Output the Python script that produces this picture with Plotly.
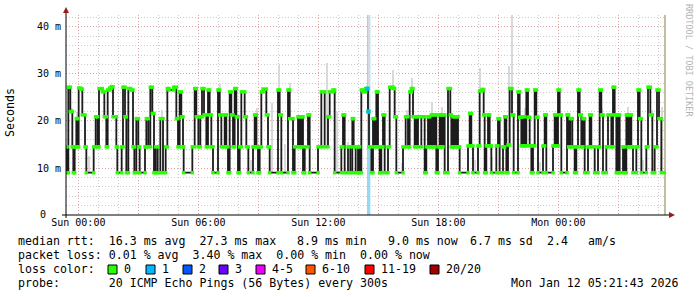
import numpy as np
import pandas as pd
import plotly.graph_objects as go

# ---------------- data ----------------
t_start = pd.Timestamp("2026-01-10 23:23:00")
span_minutes = 1800

# median RTT step series: minute offset of each level change, level in ms
change_min = [0, 3, 7, 13, 19, 22, 26, 31, 36, 38, 44, 49, 57, 61, 83, 89, 95, 99, 109, 115,
              121, 125, 131, 136, 141, 151, 154, 167, 171, 177, 181, 187, 194, 201, 205, 211, 217, 221, 237, 241,
              247, 253, 259, 264, 269, 275, 283,
              291, 299, 304, 309, 323, 331, 336, 341, 346, 351, 353, 379, 386, 391, 397, 403, 408, 414, 421,
              426, 431, 436, 441, 456, 461, 466, 476, 481, 486, 491, 496, 501, 506, 511, 516, 521, 526, 536,
              541, 547, 561, 566, 571, 576, 581, 586,
              591, 601, 606, 611, 636, 641, 646, 666, 671, 681, 686, 696, 701, 706, 711, 716, 726, 731, 756,
              766, 776, 786, 791, 801, 806, 826, 831, 836, 846, 853, 859, 863, 869, 876, 881, 886,
              891, 899, 906, 909, 916, 921, 926, 931, 936, 941, 946, 951, 956, 966, 971, 981, 986, 991, 1011,
              1019, 1026, 1031, 1036, 1041, 1046, 1051, 1056, 1066, 1076, 1081, 1086, 1091, 1096, 1101, 1106,
              1111, 1116, 1121, 1126, 1131, 1136, 1146, 1153, 1156, 1161, 1166, 1171, 1176, 1181,
              1206, 1211, 1216, 1221, 1236, 1241, 1248, 1253, 1256, 1261, 1266, 1271, 1276, 1291, 1296, 1301,
              1311, 1316, 1321, 1326, 1331, 1338, 1343, 1356, 1361, 1366, 1371, 1376, 1381, 1386, 1391, 1396,
              1401, 1406, 1411, 1416, 1431, 1436, 1441, 1461, 1466, 1471, 1476, 1481, 1486,
              1503, 1508, 1513, 1519, 1526, 1531, 1536, 1541, 1546, 1551, 1556, 1566, 1571, 1576, 1586, 1596,
              1601, 1606, 1611, 1621, 1626, 1636, 1641, 1646, 1651, 1656, 1661, 1671, 1676, 1681, 1686, 1691,
              1696, 1701, 1711, 1716, 1721, 1726, 1741, 1746, 1753, 1759, 1766, 1773, 1779, 1786, 1796]
rtt_ms = [14.5, 9.0, 27.2, 22.0, 14.5, 9.0, 14.5, 20.5, 14.5, 27.0, 26.8, 21.3, 14.5, 9.0, 14.5, 20.9, 14.5, 26.9, 26.2, 20.9,
          14.5, 26.6, 27.0, 27.3, 20.9, 14.5, 9.0, 14.5, 27.2, 20.9, 9.0, 26.9, 26.6, 14.5, 9.0, 20.5, 14.5, 9.0, 14.5, 20.5,
          14.5, 27.2, 21.6, 9.0, 14.5, 9.0, 20.5,
          9.0, 14.5, 26.9, 26.6, 27.2, 20.5, 14.5, 26.2, 20.9, 14.5, 9.0, 14.5, 26.9, 20.9, 14.5, 20.9, 26.9, 21.3, 14.5,
          26.6, 21.3, 14.5, 9.0, 26.6, 21.3, 14.5, 21.3, 14.5, 9.0, 26.2, 21.3, 14.5, 26.9, 20.9, 9.0, 14.5, 26.2, 20.9,
          14.5, 9.0, 14.5, 21.3, 14.5, 9.0, 14.5, 26.2,
          26.8, 21.3, 14.5, 9.0, 26.6, 21.3, 9.0, 26.6, 20.5, 9.0, 14.5, 20.9, 14.5, 20.9, 9.0, 14.5, 21.3, 9.0, 14.5,
          26.2, 14.5, 20.9, 26.2, 26.6, 9.0, 14.5, 21.3, 9.0, 14.5, 9.0, 20.5, 14.5, 9.0, 14.5, 9.0, 26.6,
          26.2, 26.9, 22.0, 14.5, 9.0, 20.5, 14.5, 26.2, 14.5, 9.0, 14.5, 21.3, 9.0, 14.5, 27.2, 26.9, 20.9, 9.0, 14.5,
          20.9, 14.5, 26.2, 26.9, 20.9, 14.5, 20.9, 14.5, 20.9, 9.0, 14.5, 20.9, 14.5, 21.3, 14.5, 21.3,
          9.0, 14.5, 21.3, 14.5, 21.3, 9.0, 26.9, 21.3, 14.5, 20.9, 14.5, 20.9, 14.5, 9.0,
          14.7, 21.6, 14.7, 9.0, 14.7, 26.4, 26.7, 21.3, 9.0, 14.7, 21.3, 14.7, 9.0, 14.7, 20.5, 9.0,
          14.5, 20.9, 9.0, 14.9, 26.9, 21.3, 9.0, 26.2, 20.8, 14.7, 20.9, 14.7, 26.6, 20.8, 14.7, 9.0,
          14.7, 26.6, 20.8, 9.0, 14.7, 21.3, 9.0, 14.7, 21.3, 14.7, 26.6, 21.3, 9.0,
          21.3, 14.5, 20.5, 14.5, 9.0, 14.5, 26.6, 21.3, 14.5, 20.5, 9.0, 14.5, 21.3, 14.5, 9.0, 14.5,
          26.6, 21.3, 9.0, 14.5, 21.3, 14.5, 27.2, 21.3, 9.0, 21.3, 9.0, 14.5, 9.0, 21.3, 14.5, 21.3,
          14.5, 9.0, 14.5, 26.6, 20.5, 9.0, 14.5, 27.2, 21.3, 9.0, 14.5, 26.6, 20.5, 9.0, 9.0]

# smoke (max ping) spikes: minute offset and max RTT in ms
smoke_min = [17, 32, 69, 287, 407, 462, 555, 572, 617, 640, 657, 672, 717, 782, 812, 847, 910,
             982, 1007, 1022, 1037, 1097, 1112, 1127, 1227, 1242, 1257, 1277, 1300, 1330, 1337,
             1377, 1407, 1422, 1587, 1607, 1687, 1730, 1757, 1762, 1787]
smoke_max = [22.8, 22.0, 12.5, 22.3, 22.5, 27.8, 11.7, 22.7, 23.8, 31.9, 15.0, 28.0, 10.0, 32.4, 22.0, 15.6, 42.5,
             30.8, 11.0, 22.3, 29.1, 24.0, 11.0, 23.0, 11.7, 31.2, 10.3, 12.4, 10.3, 31.6, 42.5,
             22.8, 27.0, 11.3, 11.7, 22.8, 23.0, 11.7, 22.3, 11.7, 23.0]

# packet loss events (minute offset)
loss_min = [904, 907]

x_tick_times = ["2026-01-11 00:00", "2026-01-11 03:00", "2026-01-11 06:00", "2026-01-11 09:00",
                "2026-01-11 12:00", "2026-01-11 15:00", "2026-01-11 18:00", "2026-01-11 21:00",
                "2026-01-12 00:00", "2026-01-12 03:00"]
x_tick_text = ["Sun 00:00", "", "Sun 06:00", "", "Sun 12:00", "", "Sun 18:00", "", "Mon 00:00", ""]
y_tick_vals = [0, 10, 20, 30, 40]
y_tick_text = ["", "10 m", "20 m", "30 m", "40 m"]

loss_labels = ["0", "1", "2", "3", "4-5", "6-10", "11-19", "20/20"]
loss_colors = ["#26ff00", "#00b8ff", "#0059ff", "#6a00ff", "#ee00ff", "#ff5500", "#ff0000", "#a10000"]

# ---------------- build ----------------
MONO = "DejaVu Sans Mono"
W, H = 697, 297
L, R, T, B = 66, 666, 15, 215
YMAX = 42.55


def px(x):
    return (x - L) / (R - L)


def py(y):
    return (B - y) / (B - T)


def tm(m):
    return t_start + pd.Timedelta(minutes=float(m))


cm = np.array(change_min, dtype=float)
rv = np.array(rtt_ms, dtype=float)
xt = [tm(m) for m in cm]


def median_at(m):
    i = np.searchsorted(cm, m, side="right") - 1
    return rv[max(i, 0)]


fig = go.Figure()

# smoke bars
s_base = [median_at(m) for m in smoke_min]
fig.add_trace(go.Bar(
    x=[tm(m) for m in smoke_min],
    y=[mx - b for mx, b in zip(smoke_max, s_base)],
    base=s_base,
    width=6 * 60 * 1000,
    marker=dict(color="#d9d9d9", line=dict(width=0)),
    showlegend=False, hoverinfo="skip"))

# median line (black step)
fig.add_trace(go.Scatter(x=xt, y=rv, mode="lines", line=dict(color="#1c1c1c", width=1.8, shape="hv"),
                         showlegend=False, hoverinfo="skip"))

# loss-colour marks at plateau ends (0 loss -> green)
gx, gy = [], []
for i in range(len(cm) - 1):
    gx += [xt[i], xt[i + 1]]
    gy += [rv[i], rv[i]]
fig.add_trace(go.Scatter(x=gx, y=gy, mode="markers",
                         marker=dict(color="#26ff00", size=3.5, symbol="square", line=dict(width=0)),
                         showlegend=False, hoverinfo="skip"))

# loss points
fig.add_trace(go.Scatter(x=[tm(m) for m in loss_min], y=[median_at(m) for m in loss_min], mode="markers",
                         marker=dict(color="#00b8ff", size=4, symbol="square", line=dict(width=0)),
                         showlegend=False, hoverinfo="skip"))

shapes = []
# loss band
shapes.append(dict(type="rect", xref="x", yref="paper", x0=tm(loss_min[0] - 1), x1=tm(loss_min[-1] + 6),
                   y0=0, y1=1, fillcolor="#94d9f6", line=dict(width=0), layer="between"))
# right edge band
shapes.append(dict(type="rect", xref="x", yref="paper", x0=tm(span_minutes - 6), x1=tm(span_minutes),
                   y0=0, y1=1, fillcolor="#c2bea2", line=dict(width=0), layer="between"))
# axis lines
shapes.append(dict(type="line", xref="paper", yref="paper", x0=px(62), x1=px(669), y0=0, y1=0,
                   line=dict(color="#000", width=1), layer="above"))
shapes.append(dict(type="line", xref="paper", yref="paper", x0=0, x1=0, y0=py(218), y1=py(10),
                   line=dict(color="#000", width=1), layer="above"))
# arrowheads
shapes.append(dict(type="path", xref="paper", yref="paper",
                   path=f"M {px(66)},{py(7)} L {px(63)},{py(13)} L {px(69)},{py(13)} Z",
                   fillcolor="#9b1b1b", line=dict(width=0), layer="above"))
shapes.append(dict(type="path", xref="paper", yref="paper",
                   path=f"M {px(675)},{py(215)} L {px(669)},{py(212)} L {px(669)},{py(218)} Z",
                   fillcolor="#9b1b1b", line=dict(width=0), layer="above"))

annotations = []


def txt(x, y, s, anchor="left", size=11.6, color="#000", angle=0):
    annotations.append(dict(xref="paper", yref="paper", x=px(x), y=py(y), text=s, showarrow=False,
                            xanchor=anchor, yanchor="middle", textangle=angle,
                            font=dict(family=MONO, size=size, color=color)))


# y zero label (offset like rrdtool)
txt(48, 214, "0", anchor="right", size=10)
# legend line 1
txt(16, 241, "median rtt:  16.3 ms avg  27.3 ms max")
txt(295, 241, "8.9 ms min")
txt(386, 241, "9.0 ms now")
txt(468, 241, "6.7 ms sd")
txt(545, 241, "2.4")
txt(586, 241, "am/s")
# legend line 2
txt(16, 255, "packet loss: 0.01 % avg  3.40 % max  0.00 % min  0.00 % now")
# legend line 3
txt(16, 269, "loss color:")
box_x = [108, 146, 183, 219, 256, 306, 365, 430]
for bx, lab, col in zip(box_x, loss_labels, loss_colors):
    shapes.append(dict(type="rect", xref="paper", yref="paper", x0=px(bx), x1=px(bx + 9),
                       y0=py(274), y1=py(265), fillcolor=col, line=dict(color="#000", width=1)))
    txt(bx + 14, 269, lab)
# legend line 4
txt(16, 283, "probe:       20 ICMP Echo Pings (56 Bytes) every 300s")
txt(681, 283, "Mon Jan 12 05:21:43 2026", anchor="right")
# axis title
txt(10, 113, "Seconds", anchor="center", size=11.6, angle=-90)
# watermark
annotations.append(dict(xref="paper", yref="paper", x=px(689), y=py(60), text="RRDTOOL / TOBI OETIKER",
                        showarrow=False, xanchor="center", yanchor="middle", textangle=90,
                        font=dict(family=MONO, size=8.5, color="#b4b4b4")))

MAJOR_GRID = "rgba(232,150,150,0.7)"
MINOR_GRID = "rgba(170,170,170,0.6)"
DOTS = "1px,2px"

fig.update_layout(
    width=W, height=H,
    margin=dict(l=L, r=W - R, t=T, b=H - B, pad=0),
    paper_bgcolor="white", plot_bgcolor="white",
    showlegend=False, bargap=0,
    shapes=shapes, annotations=annotations,
    xaxis=dict(
        type="date", range=[tm(0), tm(span_minutes)],
        tickmode="array", tickvals=x_tick_times, ticktext=x_tick_text,
        tickfont=dict(family=MONO, size=10, color="#000"), ticks="",
        showgrid=True, gridcolor=MAJOR_GRID, griddash=DOTS, gridwidth=1,
        minor=dict(dtick=3600000, tick0="2026-01-11 00:00", showgrid=True,
                   gridcolor=MINOR_GRID, griddash=DOTS, gridwidth=1),
        zeroline=False, showline=False, fixedrange=True),
    yaxis=dict(
        range=[0, YMAX], tickmode="array", tickvals=y_tick_vals, ticktext=y_tick_text,
        tickfont=dict(family=MONO, size=10, color="#000"), ticks="", ticklabelstandoff=4,
        showgrid=True, gridcolor=MAJOR_GRID, griddash=DOTS, gridwidth=1,
        minor=dict(dtick=2, tick0=0, showgrid=True, gridcolor=MINOR_GRID, griddash=DOTS, gridwidth=1),
        zeroline=False, showline=False, fixedrange=True),
)

fig.write_html("out.html")
